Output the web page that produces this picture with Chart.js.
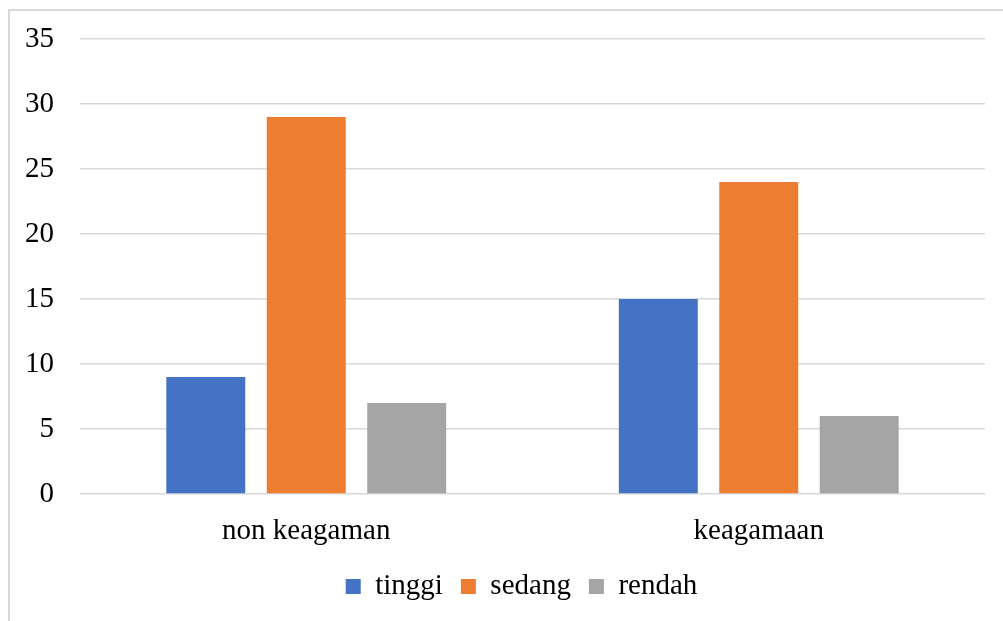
<!DOCTYPE html>
<html>
<head>
<meta charset="utf-8">
<script src="https://cdn.jsdelivr.net/npm/chart.js@4/dist/chart.umd.min.js"></script>
<style>
  html, body { margin: 0; padding: 0; background: #fff; }
  #wrap { position: relative; width: 1003px; height: 621px; overflow: hidden; }
  #frame { position: absolute; left: 8px; top: 9px; width: 1100px; height: 700px;
           border-left: 2px solid #d9d9d9; border-top: 2px solid #d9d9d9; }
  canvas { position: absolute; left: 0; top: 0; }
</style>
</head>
<body>
<div id="wrap">
  <div id="frame"></div>
  <canvas id="c" width="1003" height="621"></canvas>
</div>
<script>
const categories = ["non keagaman", "keagamaan"];
const tinggi = [9, 15];
const sedang = [29, 24];
const rendah = [7, 6];
const yTicks = [0, 5, 10, 15, 20, 25, 30, 35];

const serif = "'Liberation Serif', 'Times New Roman', serif";

// Nudges the legend row to the right of the plot's centre line.
const legendShift = {
  id: "legendShift",
  afterLayout(chart) {
    const lg = chart.legend;
    if (!lg) return;
    lg.left += 29;
    lg.right += 29;
  }
};

new Chart(document.getElementById("c"), {
  type: "bar",
  data: {
    labels: categories,
    datasets: [
      { label: "tinggi", data: tinggi, backgroundColor: "#4472C4" },
      { label: "sedang", data: sedang, backgroundColor: "#ED7D31" },
      { label: "rendah", data: rendah, backgroundColor: "#A5A5A5" }
    ]
  },
  plugins: [legendShift],
  options: {
    responsive: false,
    animation: false,
    devicePixelRatio: 1,
    layout: { padding: { top: 39, right: 18, bottom: 10, left: 0 } },
    datasets: { bar: { categoryPercentage: 0.666, barPercentage: 0.786 } },
    scales: {
      x: {
        grid: { display: false },
        border: { display: false },
        ticks: { color: "#000", font: { family: serif, size: 29 }, padding: 12 },
        afterFit: s => { s.height = 60; }
      },
      y: {
        min: 0, max: 35,
        afterBuildTicks: s => { s.ticks = yTicks.map(v => ({ value: v })); },
        grid: { color: "#d9d9d9", lineWidth: 1.5, drawTicks: false },
        border: { display: false },
        ticks: { color: "#000", font: { family: serif, size: 29 }, padding: 26 },
        afterFit: s => { s.width = 80; s.paddingTop = 0; s.paddingBottom = 0; }
      }
    },
    plugins: {
      tooltip: { enabled: false },
      legend: {
        position: "bottom",
        labels: {
          color: "#000",
          font: { family: serif, size: 29 },
          boxWidth: 15, boxHeight: 15, padding: 18
        }
      }
    }
  }
});
</script>
</body>
</html>
